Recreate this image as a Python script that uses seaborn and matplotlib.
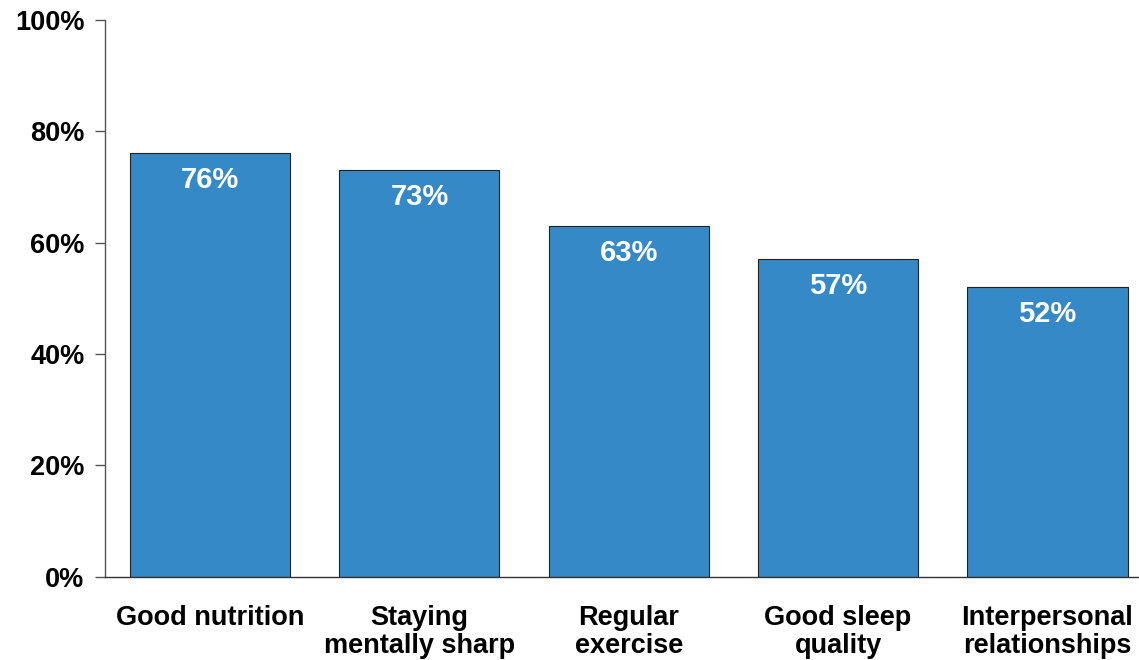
import numpy as np
import pandas as pd
import seaborn as sns
import matplotlib.pyplot as plt

# Datos del grafico
categorias = ["Good nutrition", "Staying\nmentally sharp", "Regular\nexercise",
              "Good sleep\nquality", "Interpersonal\nrelationships"]
valores = [76, 73, 63, 57, 52]
y_ticks = [0, 20, 40, 60, 80, 100]

df = pd.DataFrame({"categoria": categorias, "valor": valores})

sns.set_style("white")
plt.rcParams["font.family"] = ["Liberation Sans", "DejaVu Sans"]
plt.rcParams["font.weight"] = "bold"
plt.rcParams["text.color"] = "black"
plt.rcParams["xtick.labelcolor"] = "black"
plt.rcParams["ytick.labelcolor"] = "black"

fig = plt.figure(figsize=(11.39, 6.6), dpi=100)
ax = fig.add_axes([0.0925, 0.126, 0.919, 0.844])

sns.barplot(data=df, x="categoria", y="valor", color="#3589c7", saturation=1,
            width=0.765, edgecolor="#222222", linewidth=0.8, ax=ax)

# Etiquetas dentro de las barras
for i, v in enumerate(valores):
    ax.text(i, v - 4.8, f"{v}%", ha="center", va="center", color="white",
            fontsize=21, fontweight="bold")

ax.set_ylim(0, 100)
ax.set_xlim(-0.5, 4.5)
ax.set_yticks(y_ticks)
ax.set_yticklabels([f"{t}%" for t in y_ticks], fontsize=19.5, fontweight="bold")
ax.set_xticks(range(len(categorias)))
ax.set_xticklabels(categorias, fontsize=19.5, fontweight="bold", linespacing=1.1)
ax.set_xticks(np.arange(0.5, len(categorias) - 0.5, 1), minor=True)
ax.tick_params(axis="x", which="major", length=0, pad=20)
ax.tick_params(axis="x", which="minor", length=7, direction="out", color="#333333", width=1)
ax.tick_params(axis="y", length=7, direction="out", color="#555555", width=1, pad=8, left=True)
ax.set_xlabel("")
ax.set_ylabel("")

for s in ["top", "right"]:
    ax.spines[s].set_visible(False)
ax.spines["left"].set_color("#555555")
ax.spines["bottom"].set_color("#333333")
ax.spines["left"].set_linewidth(1)
ax.spines["bottom"].set_linewidth(1)

fig.savefig("out.png", dpi=100)
